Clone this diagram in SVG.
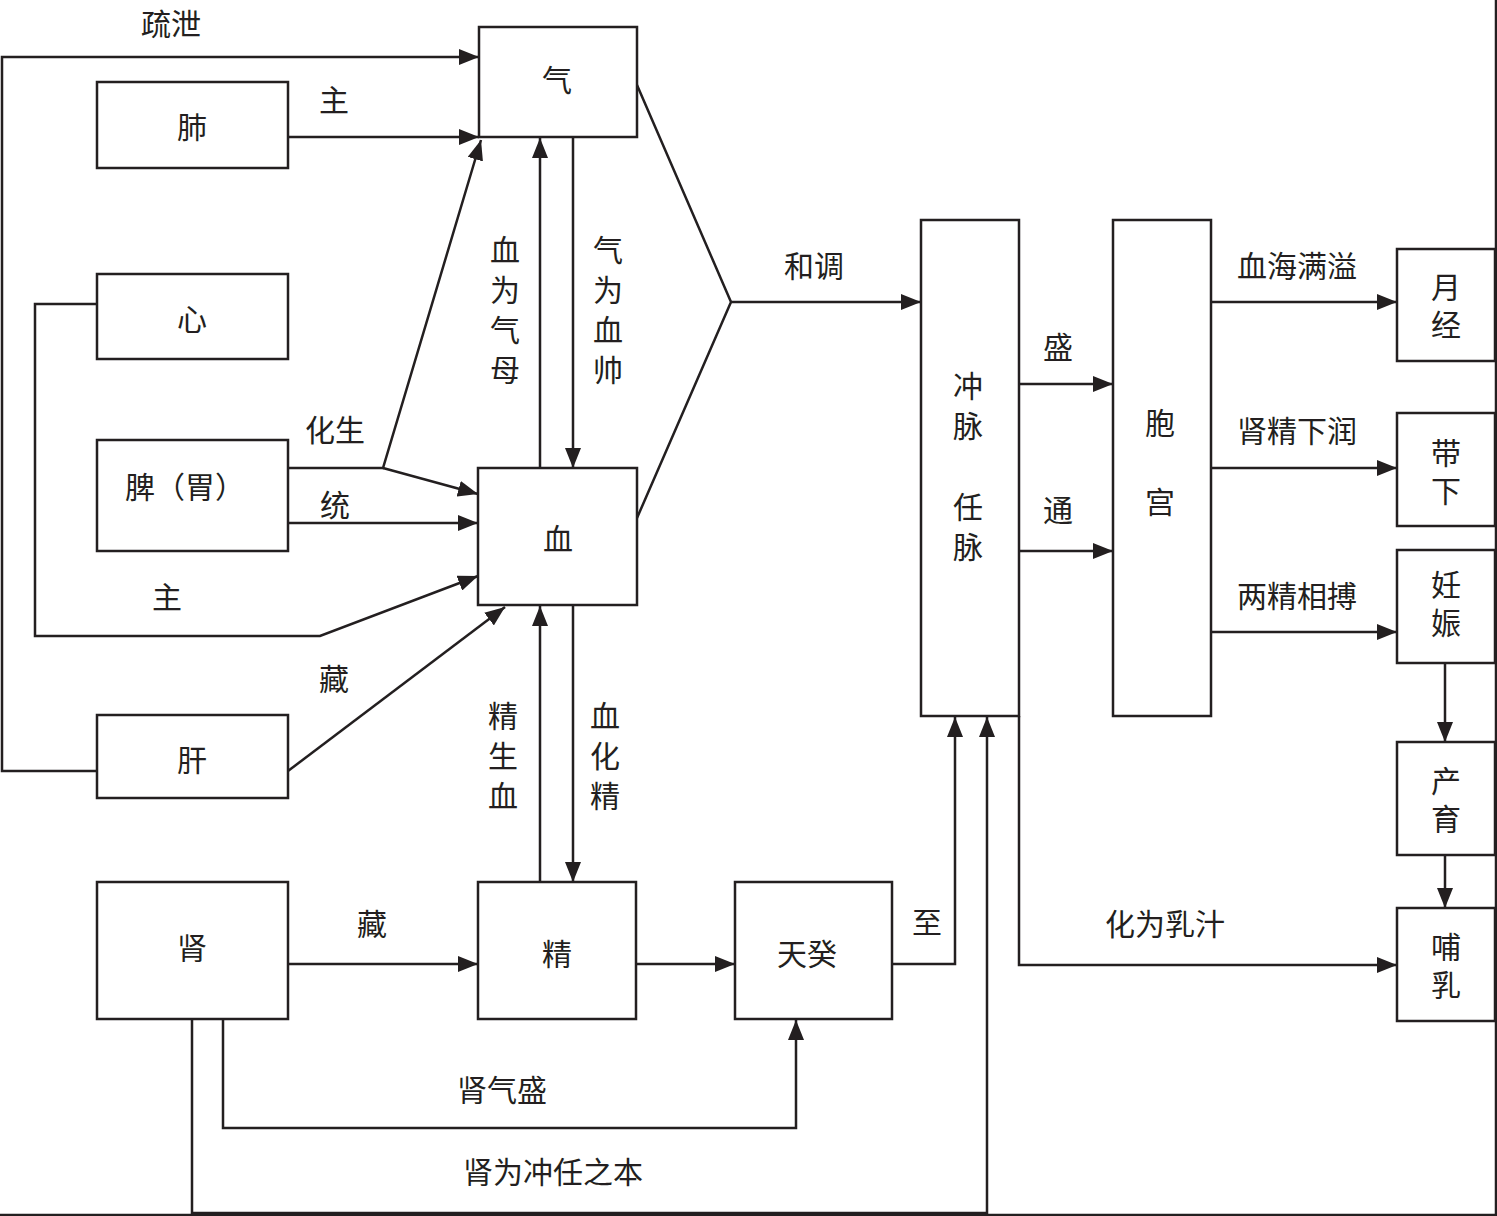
<svg xmlns="http://www.w3.org/2000/svg" width="1497" height="1216" viewBox="0 0 1497 1216">
<defs>
<marker id="ah" markerUnits="userSpaceOnUse" markerWidth="21" markerHeight="16" refX="20" refY="8" orient="auto">
<path d="M0,0 L20,8 L0,16 z" fill="#231f20"/>
</marker>
<style>
.box{fill:#fff;stroke:#231f20;stroke-width:2.5}
.c{fill:none;stroke:#231f20;stroke-width:2.5}
.a{fill:none;stroke:#231f20;stroke-width:2.5;marker-end:url(#ah)}
text{font-family:"Noto Sans CJK SC","Noto Sans CJK TC",sans-serif;font-size:30px;fill:#231f20;text-anchor:middle;dominant-baseline:central}
text.v{writing-mode:vertical-rl;text-anchor:start;letter-spacing:10px}
text.v8{letter-spacing:8px}
</style>
</defs>
<rect width="1497" height="1216" fill="#fff"/>
<g id="connectors">
<polyline class="a" points="97,771 2,771 2,57 479,57"/>
<line class="a" x1="288" y1="137" x2="479" y2="137"/>
<polyline class="a" points="97,304 35,304 35,636 320,636 478,576"/>
<polyline class="a" points="288,468 383,468 481,140"/>
<line class="a" x1="383" y1="468" x2="478" y2="494"/>
<line class="a" x1="288" y1="523" x2="478" y2="523"/>
<line class="a" x1="288" y1="771" x2="505" y2="607"/>
<line class="a" x1="540" y1="468" x2="540" y2="138"/>
<line class="a" x1="573" y1="137" x2="573" y2="468"/>
<line class="a" x1="540" y1="882" x2="540" y2="606"/>
<line class="a" x1="573" y1="605" x2="573" y2="882"/>
<polyline class="c" points="637,85 731,302 637,518"/>
<line class="a" x1="731" y1="302" x2="921" y2="302"/>
<line class="a" x1="1019" y1="384" x2="1113" y2="384"/>
<line class="a" x1="1019" y1="551" x2="1113" y2="551"/>
<line class="a" x1="1211" y1="302" x2="1397" y2="302"/>
<line class="a" x1="1211" y1="468" x2="1397" y2="468"/>
<line class="a" x1="1211" y1="632" x2="1397" y2="632"/>
<line class="a" x1="1445" y1="663" x2="1445" y2="742"/>
<line class="a" x1="1445" y1="855" x2="1445" y2="908"/>
<polyline class="a" points="1019,716 1019,965 1397,965"/>
<line class="a" x1="288" y1="964" x2="478" y2="964"/>
<line class="a" x1="636" y1="964" x2="735" y2="964"/>
<polyline class="a" points="892,964 955,964 955,717"/>
<polyline class="a" points="223,1019 223,1128 796,1128 796,1020"/>
<polyline class="a" points="192,1019 192,1213 987,1213 987,717"/>
<line class="c" x1="1496" y1="0" x2="1496" y2="1216"/>
<line class="c" x1="0" y1="1215" x2="1497" y2="1215"/>
</g>
<g id="n-qi"><rect class="box" x="479" y="27" width="158" height="110"/><text x="557" y="78">气</text></g>
<g id="n-fei"><rect class="box" x="97" y="82" width="191" height="86"/><text x="192" y="125">肺</text></g>
<g id="n-xin"><rect class="box" x="97" y="274" width="191" height="85"/><text x="192" y="317">心</text></g>
<g id="n-pi"><rect class="box" x="97" y="440" width="191" height="111"/><text x="185" y="485">脾（胃）</text></g>
<g id="n-xue"><rect class="box" x="478" y="468" width="159" height="137"/><text x="558" y="537">血</text></g>
<g id="n-gan"><rect class="box" x="97" y="715" width="191" height="83"/><text x="192" y="758">肝</text></g>
<g id="n-shen"><rect class="box" x="97" y="882" width="191" height="137"/><text x="192" y="946">肾</text></g>
<g id="n-jing"><rect class="box" x="478" y="882" width="158" height="137"/><text x="557" y="952">精</text></g>
<g id="n-tiangui"><rect class="box" x="735" y="882" width="157" height="137"/><text x="807" y="952">天癸</text></g>
<g id="n-chongren"><rect class="box" x="921" y="220" width="98" height="496"/><text class="v" x="968" y="371">冲脉</text><text class="v" x="968" y="492">任脉</text></g>
<g id="n-baogong"><rect class="box" x="1113" y="220" width="98" height="496"/><text class="v" x="1160" y="408" style="letter-spacing:49px">胞宫</text></g>
<g id="n-yuejing"><rect class="box" x="1397" y="249" width="98" height="112"/><text class="v v8" x="1446" y="272">月经</text></g>
<g id="n-daixia"><rect class="box" x="1397" y="413" width="98" height="113"/><text class="v v8" x="1446" y="438">带下</text></g>
<g id="n-renshen"><rect class="box" x="1397" y="550" width="98" height="113"/><text class="v v8" x="1446" y="570">妊娠</text></g>
<g id="n-chanyu"><rect class="box" x="1397" y="742" width="98" height="113"/><text class="v v8" x="1446" y="766">产育</text></g>
<g id="n-buru"><rect class="box" x="1397" y="908" width="98" height="113"/><text class="v v8" x="1446" y="932">哺乳</text></g>
<g id="labels">
<text x="171" y="22">疏泄</text>
<text x="334" y="98">主</text>
<text x="335" y="428">化生</text>
<text x="335" y="503">统</text>
<text x="167" y="595">主</text>
<text x="334" y="677">藏</text>
<text class="v" x="505" y="235">血为气母</text>
<text class="v" x="608" y="235">气为血帅</text>
<text class="v" x="503" y="701">精生血</text>
<text class="v" x="605" y="701">血化精</text>
<text x="814" y="264">和调</text>
<text x="1058" y="345">盛</text>
<text x="1058" y="508">通</text>
<text x="1297" y="264">血海满溢</text>
<text x="1297" y="429">肾精下润</text>
<text x="1297" y="594">两精相搏</text>
<text x="372" y="922">藏</text>
<text x="927" y="920">至</text>
<text x="1165" y="922">化为乳汁</text>
<text x="502" y="1088">肾气盛</text>
<text x="553" y="1170">肾为冲任之本</text>
</g>
</svg>
